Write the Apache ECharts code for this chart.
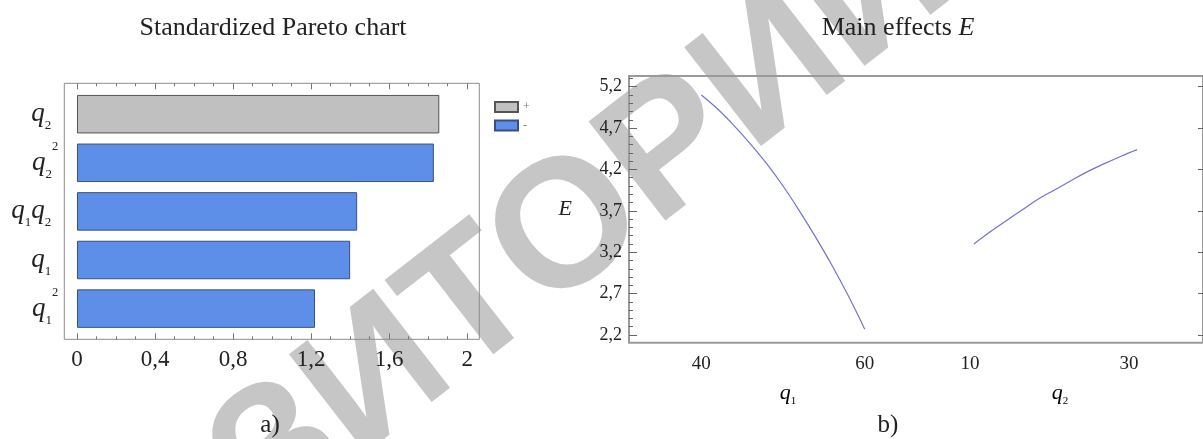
<!DOCTYPE html>
<html><head><meta charset="utf-8">
<script src="https://cdn.jsdelivr.net/npm/echarts@6/dist/echarts.min.js"></script>
<style>html,body{margin:0;padding:0;background:#fff}#c{width:1203px;height:439px}</style>
</head><body><div id="c"></div><script>
// ---- data ----
const categories = ['q2', 'q2sq', 'q1q2', 'q1', 'q1sq'];
const effectValues = [1.857, 1.829, 1.436, 1.400, 1.220];
const effectSigns = ['+', '-', '-', '-', '-'];
const paretoTicks = [0, 0.4, 0.8, 1.2, 1.6, 2];
const paretoMinor = [0.1, 0.2, 0.3, 0.5, 0.6, 0.7, 0.9, 1.0, 1.1, 1.3, 1.4, 1.5, 1.7, 1.8, 1.9];
const q1Values = [40, 42, 44, 46, 48, 50, 52, 54, 56, 58, 60];
const effectE1 = [5.10, 4.93, 4.73, 4.51, 4.27, 4.00, 3.70, 3.38, 3.04, 2.67, 2.27];
const q2Values = [10.5, 12.6, 14.7, 16.7, 18.7, 20.8, 22.8, 24.9, 26.9, 29.0, 31.0];
const effectE2 = [3.30, 3.45, 3.59, 3.72, 3.85, 3.96, 4.07, 4.18, 4.27, 4.36, 4.44];
const eTicks = [2.2, 2.7, 3.2, 3.7, 4.2, 4.7, 5.2];
const eMinor = [2.3, 2.4, 2.5, 2.6, 2.8, 2.9, 3.0, 3.1, 3.3, 3.4, 3.5, 3.6, 3.8, 3.9, 4.0, 4.1, 4.3, 4.4, 4.5, 4.6, 4.8, 4.9, 5.0, 5.1, 5.3];
const q1Ticks = [40, 60];
const q2Ticks = [10, 30];

const SERIF = '"Liberation Serif", "DejaVu Serif", serif';
const comma = v => String(+(+v).toFixed(1)).replace('.', ',');
const catLabel = {
  q2: '{q|q}{sb|2}{sp| }',
  q2sq: '{q|q}{sb|2}{su|2}',
  q1q2: '{q|q}{sb|1}{q|q}{sb|2}{sp| }',
  q1: '{q|q}{sb|1}{sp| }',
  q1sq: '{q|q}{sb|1}{su|2}'
};
const qRich = {
  q: {fontFamily: SERIF, fontStyle: 'italic', fontSize: 27, lineHeight: 30, verticalAlign: 'middle', color: '#222'},
  sb: {fontFamily: SERIF, fontSize: 13, lineHeight: 14, padding: [23, 0, 0, 0], verticalAlign: 'middle', color: '#222'},
  su: {fontFamily: SERIF, fontSize: 12.5, lineHeight: 13, padding: [0, 0, 32, 0], verticalAlign: 'middle', color: '#222'},
  sp: {width: 7, fontSize: 12}
};

const pMin = -0.065, pMax = 2.062;
const frameX = (pos, ticks, len, labels) => ({
  gridIndex: 1, type: 'value', position: pos, min: pMin, max: pMax,
  axisLine: {show: false, onZero: false}, splitLine: {show: false},
  axisTick: {show: true, inside: true, length: len, customValues: ticks, lineStyle: {color: '#777', width: 1}},
  axisLabel: labels ? {show: true, customValues: ticks, formatter: comma, fontFamily: SERIF, fontSize: 23, color: '#222', margin: 9} : {show: false}
});
const eAxis = (pos, ticks, len, labels, extra) => Object.assign({
  gridIndex: 2, type: 'value', position: pos, min: 2.107, max: 5.329,
  axisLine: {show: false, onZero: false}, splitLine: {show: false},
  axisTick: {show: true, inside: true, length: len, customValues: ticks, lineStyle: {color: '#666'}},
  axisLabel: labels ? {customValues: ticks, formatter: comma, fontFamily: SERIF, fontSize: 18, color: '#222', margin: 7} : {show: false}
}, extra || {});

const chart = echarts.init(document.getElementById('c'), null, {renderer: 'canvas'});
chart.setOption({
  backgroundColor: '#fff',
  animation: false,
  grid: [
    {left: 64.3, top: 89.9, width: 415, height: 243},
    {left: 64.3, top: 83.3, width: 415, height: 256, show: true, borderColor: '#8c8c8c', borderWidth: 1},
    {left: 629, top: 76, width: 577, height: 266.7, show: true, borderColor: '#9a9a9a', borderWidth: 2}
  ],
  xAxis: [
    {gridIndex: 0, type: 'value', min: pMin, max: pMax, show: false},
    frameX('bottom', paretoTicks, 6, true),
    frameX('bottom', paretoMinor, 3, false),
    frameX('top', paretoTicks, 6, false),
    frameX('top', paretoMinor, 3, false),
    {gridIndex: 2, type: 'value', position: 'bottom', min: 31.15, max: 101.39,
      axisLine: {show: false, onZero: false}, axisTick: {show: false}, splitLine: {show: false},
      axisLabel: {customValues: q1Ticks, fontFamily: SERIF, fontSize: 19, color: '#222', margin: 12}},
    {gridIndex: 2, type: 'value', position: 'bottom', min: -32.84, max: 39.29,
      axisLine: {show: false, onZero: false}, axisTick: {show: false}, splitLine: {show: false},
      axisLabel: {customValues: q2Ticks, fontFamily: SERIF, fontSize: 19, color: '#222', margin: 12}}
  ],
  yAxis: [
    {gridIndex: 0, type: 'category', inverse: true, data: categories,
      axisLine: {show: false, onZero: false}, axisTick: {show: false},
      axisLabel: {margin: 6, formatter: v => catLabel[v], rich: qRich}},
    {gridIndex: 1, type: 'value', show: false, axisLine: {onZero: false}},
    eAxis('left', eTicks, 8, true, {name: 'E', nameLocation: 'middle', nameRotate: 0, nameGap: 57,
      nameTextStyle: {fontFamily: SERIF, fontStyle: 'italic', fontSize: 22, color: '#222'}}),
    eAxis('left', eMinor, 4, false),
    eAxis('right', eTicks, 5, false)
  ],
  legend: {
    data: ['+', '-'], orient: 'vertical', left: 494, top: 101, padding: 0,
    itemWidth: 23, itemHeight: 10, itemGap: 6.6, icon: 'rect',
    textStyle: {fontSize: 12, color: '#777', fontFamily: SERIF}
  },
  series: [
    {name: '+', type: 'bar', xAxisIndex: 0, yAxisIndex: 0, stack: 'p', barWidth: 38.5,
      data: effectValues.map((v, i) => effectSigns[i] === '+' ? v : '-'),
      itemStyle: {color: '#c0c0c0', borderColor: '#555', borderWidth: 1}},
    {name: '-', type: 'bar', xAxisIndex: 0, yAxisIndex: 0, stack: 'p', barWidth: 38.5,
      data: effectValues.map((v, i) => effectSigns[i] === '-' ? v : '-'),
      itemStyle: {color: '#5e8fe8', borderColor: '#3a4f80', borderWidth: 1}},
    {name: 'q1', type: 'line', xAxisIndex: 5, yAxisIndex: 2, smooth: 0.4, showSymbol: false,
      data: q1Values.map((q, i) => [q, effectE1[i]]),
      lineStyle: {color: '#7272d4', width: 1.2}},
    {name: 'q2', type: 'line', xAxisIndex: 6, yAxisIndex: 2, smooth: 0.4, showSymbol: false,
      data: q2Values.map((q, i) => [q, effectE2[i]]),
      lineStyle: {color: '#7272d4', width: 1.2}}
  ],
  graphic: [
    {type: 'text', z: -10, x: 378, y: 380, rotation: 0.66,
      style: {text: 'РЕПОЗИТОРИЙ', font: 'bold 182px "Liberation Sans", sans-serif', fill: '#c6c6c6', textAlign: 'center', textVerticalAlign: 'middle'}},
    {type: 'text', x: 273, y: 28, style: {text: 'Standardized Pareto chart', font: '26px ' + SERIF, fill: '#222', textAlign: 'center', textVerticalAlign: 'middle'}},
    {type: 'text', x: 898, y: 28, style: {text: 'Main effects {i|E}', font: '26px ' + SERIF, fill: '#222', textAlign: 'center', textVerticalAlign: 'middle',
      rich: {i: {fontFamily: SERIF, fontStyle: 'italic', fontSize: 26, color: '#222'}}}},
    {type: 'text', x: 788, y: 393, style: {text: '{q|q}{s|1}', textAlign: 'center', textVerticalAlign: 'middle',
      rich: {q: {fontFamily: SERIF, fontStyle: 'italic', fontSize: 22, lineHeight: 26, verticalAlign: 'middle', color: '#222'},
             s: {fontFamily: SERIF, fontSize: 11, lineHeight: 12, padding: [16, 0, 0, 0], verticalAlign: 'middle', color: '#222'}}}},
    {type: 'text', x: 1060, y: 393, style: {text: '{q|q}{s|2}', textAlign: 'center', textVerticalAlign: 'middle',
      rich: {q: {fontFamily: SERIF, fontStyle: 'italic', fontSize: 22, lineHeight: 26, verticalAlign: 'middle', color: '#222'},
             s: {fontFamily: SERIF, fontSize: 11, lineHeight: 12, padding: [16, 0, 0, 0], verticalAlign: 'middle', color: '#222'}}}},
    {type: 'text', x: 270, y: 425, style: {text: 'a)', font: '25px ' + SERIF, fill: '#222', textAlign: 'center', textVerticalAlign: 'middle'}},
    {type: 'text', x: 888, y: 425, style: {text: 'b)', font: '25px ' + SERIF, fill: '#222', textAlign: 'center', textVerticalAlign: 'middle'}}
  ]
});
</script></body></html>
